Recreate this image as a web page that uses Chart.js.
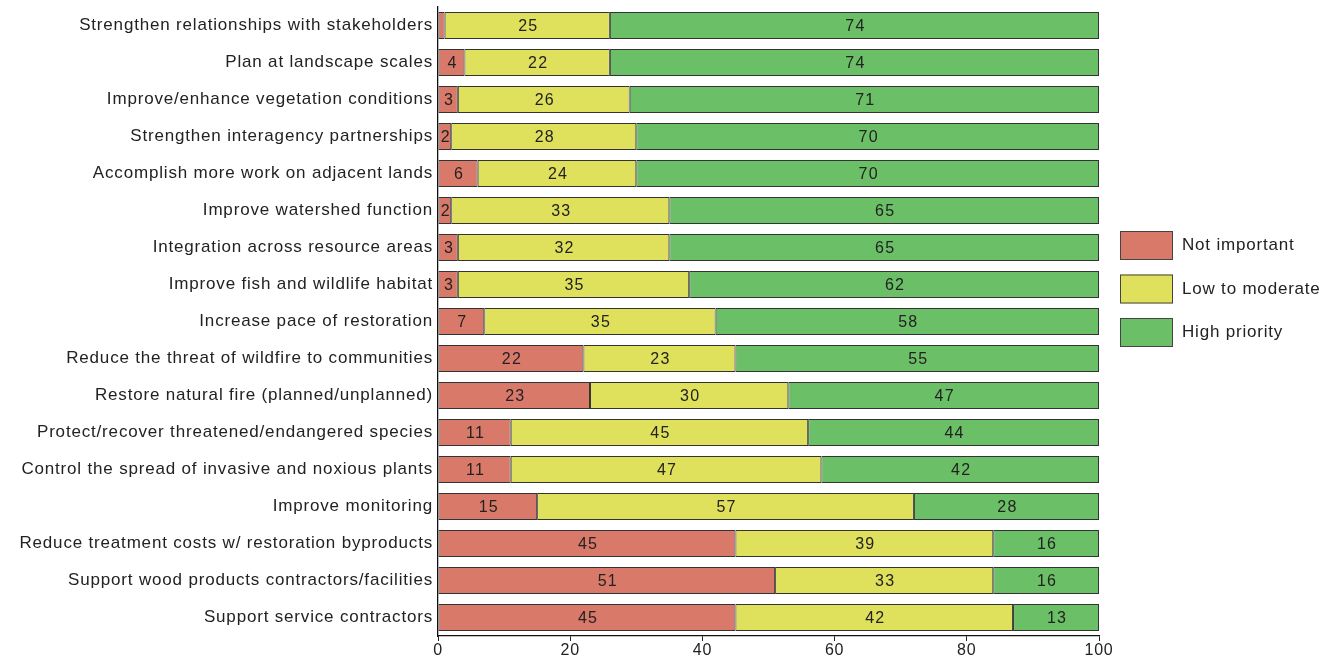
<!DOCTYPE html>
<html>
<head>
<meta charset="utf-8">
<script src="https://cdn.jsdelivr.net/npm/chart.js@4"></script>
<style>
  html, body { margin: 0; padding: 0; background: #fff; }
  #wrap { width: 1336px; height: 656px; position: relative; }
</style>
</head>
<body>
<div id="wrap"><canvas id="chart"></canvas></div>
<script>
let categories = [
    "Strengthen relationships with stakeholders",
    "Plan at landscape scales",
    "Improve/enhance vegetation conditions",
    "Strengthen interagency partnerships",
    "Accomplish more work on adjacent lands",
    "Improve watershed function",
    "Integration across resource areas",
    "Improve fish and wildlife habitat",
    "Increase pace of restoration",
    "Reduce the threat of wildfire to communities",
    "Restore natural fire (planned/unplanned)",
    "Protect/recover threatened/endangered species",
    "Control the spread of invasive and noxious plants",
    "Improve monitoring",
    "Reduce treatment costs w/ restoration byproducts",
    "Support wood products contractors/facilities",
    "Support service contractors"
];
let notImportant = [1, 4, 3, 2, 6, 2, 3, 3, 7, 22, 23, 11, 11, 15, 45, 51, 45];
let lowToModerate = [25, 22, 26, 28, 24, 33, 32, 35, 35, 23, 30, 45, 47, 57, 39, 33, 42];
let highPriority = [74, 74, 71, 70, 70, 65, 65, 62, 58, 55, 47, 44, 42, 28, 16, 16, 13];
let xTicks = [0, 20, 40, 60, 80, 100];

let colors = ["#d9796a", "#dfe05b", "#6bbf66"];

// wider tracking for axis text, like the printed figure
let tracking = {
    id: "tracking",
    beforeDraw(chart) {
        chart.ctx.letterSpacing = "0.82px";
    }
};

// numbers inside each segment
let segmentLabels = {
    id: "segmentLabels",
    afterDatasetsDraw(chart) {
        let ctx = chart.ctx;
        ctx.save();
        ctx.font = "16px 'Liberation Sans', Arial, sans-serif";
        ctx.letterSpacing = "1.2px";
        ctx.fillStyle = "#222";
        ctx.textAlign = "center";
        ctx.textBaseline = "middle";
        chart.data.datasets.forEach((ds, i) => {
            chart.getDatasetMeta(i).data.forEach((bar, j) => {
                let v = ds.data[j];
                if (v < 2) return;
                let cx = (bar.x + bar.base) / 2;
                ctx.fillText(String(v), cx + 1, bar.y + 1);
            });
        });
        ctx.restore();
    }
};

// legend at the right, drawn by hand
let sideLegend = {
    id: "sideLegend",
    afterDraw(chart) {
        let ctx = chart.ctx;
        ctx.save();
        ctx.font = "17px 'Liberation Sans', Arial, sans-serif";
        ctx.letterSpacing = "0.8px";
        ctx.textBaseline = "middle";
        ctx.textAlign = "left";
        chart.data.datasets.forEach((ds, i) => {
            let y = 231 + i * 43.5;
            ctx.fillStyle = ds.backgroundColor;
            ctx.fillRect(1120, y, 53, 29);
            ctx.strokeStyle = "#444";
            ctx.lineWidth = 1;
            ctx.strokeRect(1120.5, y + 0.5, 52, 28);
            ctx.fillStyle = "#222";
            ctx.fillText(ds.label, 1182, y + 14.5);
        });
        ctx.restore();
    }
};

let ctx = document.getElementById("chart").getContext("2d");
new Chart(ctx, {
    type: "bar",
    data: {
        labels: categories,
        datasets: [
            { label: "Not important", data: notImportant, backgroundColor: colors[0] },
            { label: "Low to moderate", data: lowToModerate, backgroundColor: colors[1] },
            { label: "High priority", data: highPriority, backgroundColor: colors[2] }
        ].map(ds => Object.assign(ds, {
            borderColor: "#333",
            borderWidth: 1,
            borderSkipped: false,
            barPercentage: 0.73,
            categoryPercentage: 1
        }))
    },
    options: {
        indexAxis: "y",
        responsive: true,
        maintainAspectRatio: false,
        animation: false,
        layout: { padding: { top: 7, right: 237, left: 0, bottom: 0 } },
        plugins: {
            legend: { display: false },
            tooltip: { enabled: false }
        },
        scales: {
            x: {
                stacked: true,
                min: 0,
                max: 100,
                afterBuildTicks(scale) {
                    scale.ticks = xTicks.map(v => ({ value: v }));
                },
                afterFit(scale) {
                    scale.height = 20;
                    scale.paddingLeft = 0;
                    scale.paddingRight = 0;
                },
                grid: {
                    display: true,
                    drawOnChartArea: false,
                    drawTicks: true,
                    tickLength: 5,
                    color: "#222",
                    lineWidth: 1
                },
                border: { display: true, color: "#111", width: 1.3 },
                ticks: {
                    padding: 0,
                    color: "#222",
                    font: { family: "'Liberation Sans', Arial, sans-serif", size: 16 }
                }
            },
            y: {
                stacked: true,
                afterFit(scale) {
                    scale.width = 438;
                    scale.paddingTop = 0;
                    scale.paddingBottom = 0;
                },
                grid: { display: false, drawTicks: false, tickLength: 0 },
                border: { display: true, color: "#111", width: 1.3 },
                ticks: {
                    padding: 5,
                    color: "#222",
                    font: { family: "'Liberation Sans', Arial, sans-serif", size: 17 }
                }
            }
        }
    },
    plugins: [tracking, segmentLabels, sideLegend]
});
</script>
</body>
</html>
